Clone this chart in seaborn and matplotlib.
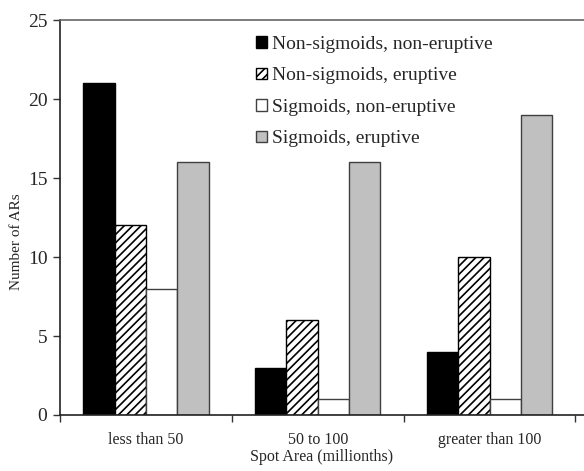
import pandas as pd
import matplotlib
matplotlib.use("Agg")
import matplotlib.pyplot as plt
from matplotlib.patches import Patch
import seaborn as sns

sns.set_theme(style="white")
plt.rcParams["font.family"] = ["Liberation Serif", "DejaVu Serif"]
plt.rcParams["hatch.linewidth"] = 1.2

categories = ["less than 50", "50 to 100", "greater than 100"]
series = ["Non-sigmoids, non-eruptive", "Non-sigmoids, eruptive",
          "Sigmoids, non-eruptive", "Sigmoids, eruptive"]
non_sig_non_erupt = [21, 3, 4]
non_sig_erupt = [12, 6, 10]
sig_non_erupt = [8, 1, 1]
sig_erupt = [16, 16, 19]

values = [non_sig_non_erupt, non_sig_erupt, sig_non_erupt, sig_erupt]
rows = []
for name, vals in zip(series, values):
    for cat, v in zip(categories, vals):
        rows.append({"area": cat, "group": name, "count": v})
df = pd.DataFrame(rows)

faces = ["black", "white", "white", "#c0c0c0"]
edges = ["black", "black", "#404040", "#404040"]
hatches = [None, "////", None, None]

fig = plt.figure(figsize=(5.84, 4.71), dpi=100)
ax = fig.add_axes([0.1027, 0.1189, 0.8973, 0.8386])

sns.barplot(data=df, x="area", y="count", hue="group", order=categories,
            hue_order=series, palette=faces, width=0.73, legend=False,
            errorbar=None, ax=ax, saturation=1)

for cont, ec, h in zip(ax.containers, edges, hatches):
    for bar in cont:
        bar.set_edgecolor(ec)
        bar.set_linewidth(1.0)
        if h:
            bar.set_hatch(h)

ax.set_xlim(-0.5, 2.55)
ax.set_ylim(0, 25)
ax.set_yticks(range(0, 26, 5))
ax.set_xticks([-0.5, 0.5, 1.5, 2.5])
ax.set_xticklabels([])
ax.set_xticks([0, 1, 2], minor=True)
ax.set_xticklabels(categories, minor=True)
ax.tick_params(axis="x", which="major", direction="out", length=5, width=1, color="#333333", bottom=True)
ax.tick_params(axis="x", which="minor", length=0, pad=12, labelsize=11.5)
ax.tick_params(axis="y", direction="out", length=5, width=1, color="#333333", left=True, labelsize=14, pad=4)

ax.spines["right"].set_visible(False)
ax.spines["top"].set_color("#666666")
ax.spines["top"].set_linewidth(1.2)
for s in ["left", "bottom"]:
    ax.spines[s].set_color("#222222")
    ax.spines[s].set_linewidth(1.2)

ax.set_xlabel("Spot Area (millionths)", fontsize=11.5, labelpad=1)
ax.set_ylabel("Number of ARs", fontsize=11)
ax.yaxis.set_label_coords(-0.07, 0.44)

handles = [Patch(facecolor=f, edgecolor=e, hatch=h, linewidth=1.0)
           for f, e, h in zip(faces, edges, hatches)]
ax.legend(handles=handles, labels=series, loc="upper left",
          bbox_to_anchor=(0.36, 0.98), frameon=False, fontsize=14,
          handlelength=0.55, handleheight=0.55, handletextpad=0.25,
          labelspacing=0.75, borderaxespad=0)

fig.savefig("out.png", dpi=100)
